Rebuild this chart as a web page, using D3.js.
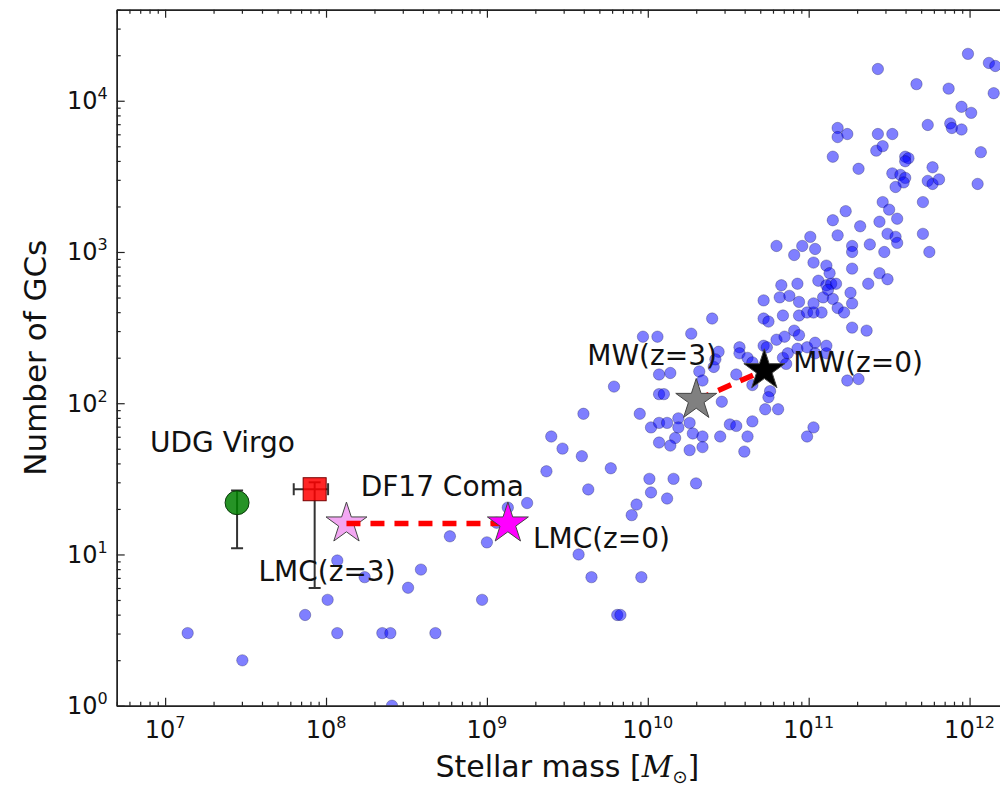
<!DOCTYPE html>
<html>
<head>
<meta charset="utf-8">
<script src="https://cdn.jsdelivr.net/npm/d3@7"></script>
<style>
body { margin: 0; background: #fff; }
svg text { font-family: "DejaVu Sans", sans-serif; fill: #111; }
</style>
</head>
<body>
<div id="chart"></div>
<script>
// galaxies: log10 stellar mass [Msun] and log10 number of GCs
var logMass = [
	7.14, 7.48, 7.87, 8.01, 8.07, 8.07, 8.24, 8.35, 8.40, 8.41, 8.51, 8.59, 8.68,
	8.77, 8.97, 9.00, 9.06, 9.13, 9.25, 9.57, 9.65, 9.96, 9.81, 9.83, 9.63, 9.37,
	9.77, 9.59, 9.47, 9.40, 9.60, 9.79, 9.95, 10.01, 10.16, 10.02, 10.12, 9.93, 9.90,
	9.97, 10.06, 10.27, 10.40, 10.07, 10.14, 10.07, 10.10, 10.02, 10.07, 10.12, 10.07, 10.17, 10.14, 10.19,
	10.19, 10.26, 10.28, 10.26, 10.34, 10.34, 10.45, 10.30, 10.60, 10.62, 10.51, 10.55, 10.65, 10.73, 10.81,
	10.76, 10.75, 10.65, 10.55, 10.46, 10.99, 11.03, 11.24, 11.31, 10.41, 10.44, 10.42, 10.32, 10.34, 10.57,
	10.57, 10.62, 10.65, 10.72, 10.74, 10.80, 10.85, 10.91, 10.94, 10.84, 10.87, 10.93, 10.99, 11.04, 10.86, 11.04, 11.11, 11.11,
	10.72, 10.72, 10.75, 10.84, 10.94, 10.99, 11.03, 11.08, 11.18, 11.22, 11.27, 11.27, 11.36,
	10.82, 10.88, 10.94, 11.03, 11.09, 11.15, 11.26, 10.83, 10.93, 11.06, 11.11, 11.14, 11.17, 11.12, 11.37,
	11.11, 11.13, 11.27, 11.44, 11.49, 11.03, 10.91, 10.80, 10.96, 11.01, 11.04, 11.18, 11.27, 11.27, 11.38,
	11.47, 11.49, 11.54, 11.55, 11.71, 11.75, 11.15, 11.23, 11.32, 11.44, 11.55, 11.46, 11.50, 11.71,
	11.15, 11.31, 11.18, 11.18, 11.24, 11.43, 11.52, 11.42, 11.46, 11.60, 11.62, 11.60, 11.77, 11.52,
	11.57, 11.60, 11.59, 11.54, 11.74, 11.77, 11.81, 12.05, 11.74, 11.88, 11.89, 11.95, 11.95, 12.01, 12.07,
	11.87, 11.67, 11.43, 11.99, 12.12, 12.16, 12.15
];
var logNgc = [
	0.48, 0.30, 0.60, 0.70, 0.96, 0.48, 0.85, 0.48, 0.48, 0.00, 0.78, 0.90, 0.48,
	1.12, 0.70, 1.08, 1.21, 1.31, 1.34, 1.00, 0.85, 0.85, 0.60, 0.60, 1.43, 1.55,
	1.57, 1.65, 1.70, 1.78, 1.93, 2.11, 1.93, 1.50, 1.50, 1.41, 1.37, 1.33, 1.26,
	2.44, 2.44, 2.46, 2.56, 2.19, 2.20, 2.06, 2.06, 1.84, 1.87, 1.87, 1.74, 1.77, 1.72, 1.90,
	1.84, 1.87, 1.80, 1.69, 1.78, 1.71, 1.78, 1.47, 1.68, 1.78, 1.86, 1.85, 1.88, 1.96, 1.96,
	2.08, 2.04, 2.12, 2.19, 2.01, 1.78, 1.84, 2.15, 2.16, 2.24, 2.34, 2.29, 2.21, 2.15, 2.37,
	2.33, 2.30, 2.27, 2.38, 2.37, 2.42, 2.44, 2.48, 2.45, 2.30, 2.33, 2.36, 2.37, 2.40, 2.26, 2.33, 2.33, 2.38,
	2.68, 2.56, 2.54, 2.58, 2.58, 2.60, 2.60, 2.60, 2.63, 2.60, 2.66, 2.50, 2.48,
	2.70, 2.71, 2.67, 2.66, 2.70, 2.69, 2.73, 2.78, 2.79, 2.81, 2.78, 2.79, 2.79, 2.75, 2.79,
	2.91, 2.86, 2.89, 2.86, 2.82, 2.93, 2.98, 3.04, 3.04, 3.10, 3.02, 3.11, 3.04, 3.00, 3.05,
	3.00, 3.12, 3.10, 3.06, 3.12, 3.00, 3.21, 3.27, 3.17, 3.20, 3.22, 3.33, 3.28, 3.33,
	3.63, 3.55, 3.82, 3.76, 3.78, 3.78, 3.78, 3.67, 3.70, 3.63, 3.62, 3.60, 3.56, 3.52,
	3.51, 3.49, 3.46, 3.43, 3.47, 3.45, 3.48, 3.45, 3.84, 3.85, 3.82, 3.81, 3.96, 3.92, 3.66,
	4.08, 4.11, 4.21, 4.31, 4.25, 4.23, 4.05
];

// UDG Virgo (circle with asymmetric N error)
var udgMass = 2.8e7, udgN = 22, udgNLow = 11, udgNHigh = 26.5;
// DF17 Coma (square with mass and N errors)
var df17Mass = 8.5e7, df17MassLow = 6.3e7, df17MassHigh = 1.03e8;
var df17N = 27, df17NLow = 6, df17NHigh = 30;
// LMC and MW today (z=0) and at z=3
var lmcMass = [1.34e8, 1.35e9], lmcN = [16, 16];
var mwMass = [2.0e10, 5.3e10], mwN = [105, 165];

var xMajor = [1e7, 1e8, 1e9, 1e10, 1e11, 1e12];
var yMajor = [1, 10, 100, 1e3, 1e4];

var W = 1000, H = 788;
var plotL = 116.7, plotR = 1018, plotT = 9.7, plotB = 705.7;

var x = d3.scaleLog().domain([5e6, 2e12]).range([plotL, plotR]);
var y = d3.scaleLog().domain([1, 4e4]).range([plotB, plotT]);

function minorTicks(scale) {
	var dom = scale.domain(), out = [];
	for (var e = Math.floor(Math.log10(dom[0])); e <= Math.ceil(Math.log10(dom[1])); e++) {
		for (var m = 2; m <= 9; m++) {
			var v = m * Math.pow(10, e);
			if (v >= dom[0] && v <= dom[1]) out.push(v);
		}
	}
	return out;
}

var svg = d3.select("#chart").append("svg")
	.attr("width", W).attr("height", H);
svg.append("rect").attr("width", W).attr("height", H).attr("fill", "#fff");

svg.append("defs").append("clipPath").attr("id", "plot-clip")
	.append("rect").attr("x", plotL).attr("y", plotT)
	.attr("width", plotR - plotL).attr("height", plotB - plotT);

var plot = svg.append("g").attr("clip-path", "url(#plot-clip)");

/* galaxy scatter */
var n = Math.min(logMass.length, logNgc.length);
plot.selectAll("circle.gal")
	.data(d3.range(n))
	.enter()
	.append("circle")
	.attr("class", "gal")
	.attr("cx", function(i) { return x(Math.pow(10, logMass[i])); })
	.attr("cy", function(i) { return y(Math.pow(10, logNgc[i])); })
	.attr("r", 5.7)
	.attr("fill", "#0000ff")
	.attr("fill-opacity", 0.5)
	.attr("stroke", "#000033")
	.attr("stroke-opacity", 0.35)
	.attr("stroke-width", 0.8);

/* error bars */
function ebar(x1, y1, x2, y2) {
	plot.append("line").attr("x1", x1).attr("y1", y1).attr("x2", x2).attr("y2", y2)
		.attr("stroke", "#333").attr("stroke-width", 2);
}
var cap = 6;
// UDG
var ux = x(udgMass);
ebar(ux, y(udgNLow), ux, y(udgNHigh));
ebar(ux - cap, y(udgNLow), ux + cap, y(udgNLow));
ebar(ux - cap, y(udgNHigh), ux + cap, y(udgNHigh));
// DF17
var dx = x(df17Mass), dy = y(df17N);
ebar(dx, y(df17NLow), dx, y(df17NHigh));
ebar(dx - cap, y(df17NLow), dx + cap, y(df17NLow));
ebar(dx - cap, y(df17NHigh), dx + cap, y(df17NHigh));
ebar(x(df17MassLow), dy, x(df17MassHigh), dy);
ebar(x(df17MassLow), dy - cap, x(df17MassLow), dy + cap);
ebar(x(df17MassHigh), dy - cap, x(df17MassHigh), dy + cap);

plot.append("circle")
	.attr("cx", ux).attr("cy", y(udgN)).attr("r", 12)
	.attr("fill", "green").attr("fill-opacity", 0.85)
	.attr("stroke", "#0a3a0a").attr("stroke-width", 1);

plot.append("rect")
	.attr("x", dx - 11.5).attr("y", dy - 11.5).attr("width", 23).attr("height", 23)
	.attr("fill", "red").attr("fill-opacity", 0.85)
	.attr("stroke", "#700").attr("stroke-width", 1);

/* stars and evolution tracks */
var star = d3.symbol().type(d3.symbolStar).size(520);
function drawStar(m, nn, fill, op) {
	plot.append("path")
		.attr("d", star)
		.attr("transform", "translate(" + x(m) + "," + y(nn) + ")")
		.attr("fill", fill).attr("fill-opacity", op)
		.attr("stroke", "#444").attr("stroke-width", 1);
}
function track(ms, ns) {
	plot.append("line")
		.attr("x1", x(ms[0])).attr("y1", y(ns[0]))
		.attr("x2", x(ms[1])).attr("y2", y(ns[1]))
		.attr("stroke", "red").attr("stroke-width", 5.5)
		.attr("stroke-dasharray", "14,10");
}
drawStar(lmcMass[0], lmcN[0], "violet", 0.7);
track(lmcMass, lmcN);
track(mwMass, mwN);
drawStar(lmcMass[1], lmcN[1], "magenta", 1);
drawStar(mwMass[0], mwN[0], "gray", 1);
drawStar(mwMass[1], mwN[1], "black", 1);

/* annotations */
function note(txt, m, nn, ox, oy) {
	svg.append("text")
		.attr("x", x(m) + ox).attr("y", y(nn) + oy)
		.attr("font-size", 28)
		.text(txt);
}
note("UDG Virgo", udgMass, udgN, -87, -51);
note("DF17 Coma", df17Mass, df17N, 46, 7);
note("LMC(z=3)", lmcMass[0], lmcN[0], -88, 57);
note("LMC(z=0)", lmcMass[1], lmcN[1], 25, 24);
note("MW(z=3)", mwMass[0], mwN[0], -109, -35);
note("MW(z=0)", mwMass[1], mwN[1], 29, 2);

/* axes */
function styleAxis(g) {
	g.selectAll("path.domain").attr("stroke", "#222").attr("stroke-width", 1.4);
	g.selectAll(".tick line").attr("stroke", "#222").attr("stroke-width", 1.2);
	g.selectAll(".tick text").remove();
}
var xMinor = minorTicks(x), yMinor = minorTicks(y);

svg.append("g").attr("transform", "translate(0," + plotB + ")")
	.call(d3.axisBottom(x).tickValues(xMajor).tickSizeInner(-8).tickSizeOuter(0).tickFormat(""))
	.call(styleAxis);
svg.append("g").attr("transform", "translate(0," + plotB + ")")
	.call(d3.axisBottom(x).tickValues(xMinor).tickSizeInner(-4).tickSizeOuter(0).tickFormat(""))
	.call(styleAxis);
svg.append("g").attr("transform", "translate(0," + plotT + ")")
	.call(d3.axisTop(x).tickValues(xMajor).tickSizeInner(-8).tickSizeOuter(0).tickFormat(""))
	.call(styleAxis);
svg.append("g").attr("transform", "translate(0," + plotT + ")")
	.call(d3.axisTop(x).tickValues(xMinor).tickSizeInner(-4).tickSizeOuter(0).tickFormat(""))
	.call(styleAxis);
svg.append("g").attr("transform", "translate(" + plotL + ",0)")
	.call(d3.axisLeft(y).tickValues(yMajor).tickSizeInner(-8).tickSizeOuter(0).tickFormat(""))
	.call(styleAxis);
svg.append("g").attr("transform", "translate(" + plotL + ",0)")
	.call(d3.axisLeft(y).tickValues(yMinor).tickSizeInner(-4).tickSizeOuter(0).tickFormat(""))
	.call(styleAxis);
svg.append("g").attr("transform", "translate(" + plotR + ",0)")
	.call(d3.axisRight(y).tickValues(yMajor).tickSizeInner(-8).tickSizeOuter(0).tickFormat(""))
	.call(styleAxis);

/* tick labels as 10^k */
function powLabel(sel) {
	sel.append("tspan").text("10");
	sel.append("tspan").attr("font-size", 16).attr("dy", -10)
		.text(function(d) { return Math.round(Math.log10(d)); });
}
svg.selectAll("text.xtick").data(xMajor).enter().append("text")
	.attr("class", "xtick")
	.attr("x", function(d) { return x(d); })
	.attr("y", 738)
	.attr("text-anchor", "middle")
	.attr("font-size", 24)
	.call(powLabel);
svg.selectAll("text.ytick").data(yMajor).enter().append("text")
	.attr("class", "ytick")
	.attr("x", plotL - 9)
	.attr("y", function(d) { return y(d) + 8.5; })
	.attr("text-anchor", "end")
	.attr("font-size", 24)
	.call(powLabel);

/* axis titles */
var xl = svg.append("text")
	.attr("x", (plotL + plotR) / 2).attr("y", 777)
	.attr("text-anchor", "middle")
	.attr("font-size", 30);
xl.append("tspan").text("Stellar mass [");
xl.append("tspan").attr("font-family", "DejaVu Serif").attr("font-style", "italic").text("M");
xl.append("tspan").attr("font-size", 18).attr("dy", 6).text("\u2299");
xl.append("tspan").attr("dy", -6).text("]");

svg.append("text")
	.attr("transform", "translate(46," + ((plotT + plotB) / 2) + ") rotate(-90)")
	.attr("text-anchor", "middle")
	.attr("font-size", 31)
	.text("Number of GCs");
</script>
</body>
</html>
